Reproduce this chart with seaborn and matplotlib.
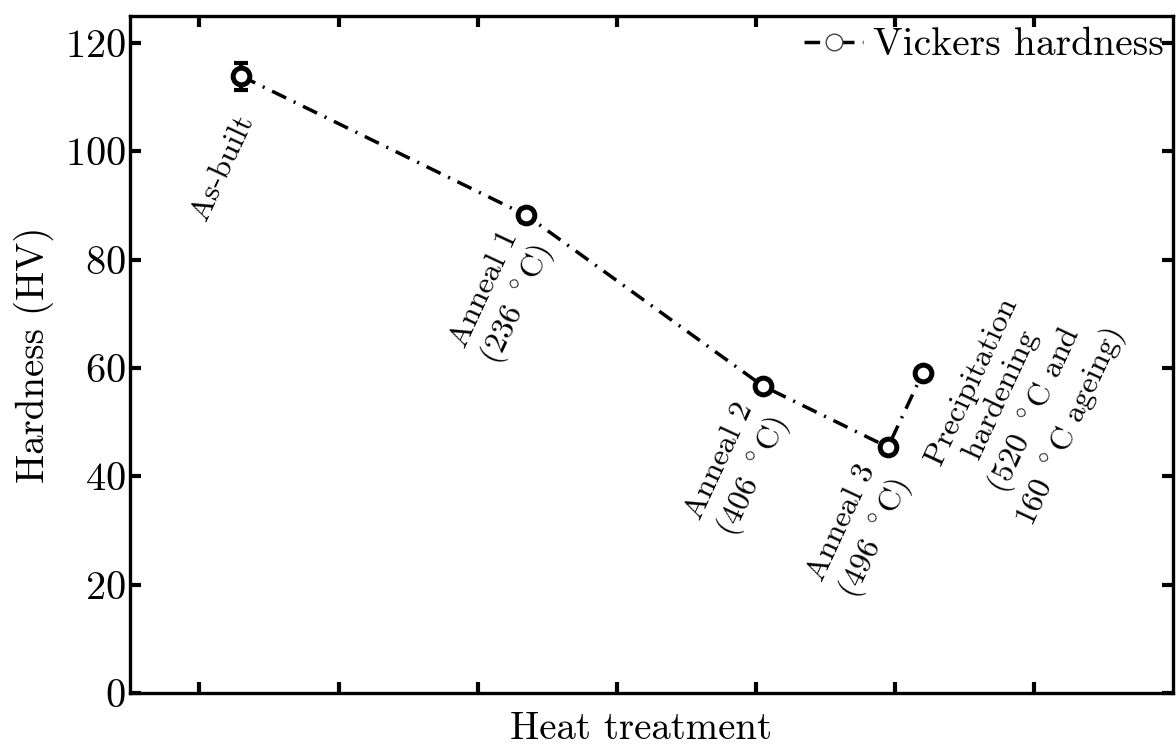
import matplotlib
matplotlib.use("Agg")
import matplotlib.pyplot as plt
import seaborn as sns
import pandas as pd
from matplotlib.lines import Line2D

# ---- data ----
treatments = ["As-built", "Anneal 1\n(236 $^\\circ$C)", "Anneal 2\n(406 $^\\circ$C)",
              "Anneal 3\n(496 $^\\circ$C)",
              "Precipitation\nhardening\n(520 $^\\circ$C and\n160 $^\\circ$C ageing)"]
x_pos = [1.30, 3.35, 5.05, 5.95, 6.20]
hardness = [113.9, 88.2, 56.7, 45.4, 59.1]
hardness_err = [2.5, 1.2, 0.6, 0.6, 0.6]
label_x = [1.17, 3.18, 4.87, 5.75, 6.92]
label_y = [97.0, 73.0, 41.2, 29.8, 53.2]
y_ticks = [0, 20, 40, 60, 80, 100, 120]
x_ticks = [1, 2, 3, 4, 5, 6, 7]

df = pd.DataFrame({"x": x_pos, "HV": hardness})

sns.set_style("ticks")
plt.rcParams["font.family"] = ["cmr10", "DejaVu Serif"]
plt.rcParams["mathtext.fontset"] = "cm"
plt.rcParams["axes.formatter.use_mathtext"] = True
for k in ["text.color", "axes.labelcolor", "xtick.color", "ytick.color",
          "axes.edgecolor"]:
    plt.rcParams[k] = "black"

fig = plt.figure(figsize=(11.76, 7.51), dpi=100)
ax = fig.add_axes([0.1105, 0.0772, 0.887, 0.9015])

sns.lineplot(data=df, x="x", y="HV", ax=ax, color="black", lw=2.5,
             marker="o", markersize=12, markerfacecolor="white",
             markeredgecolor="black", markeredgewidth=3.6, sort=False,
             zorder=3)
line = ax.lines[0]
line.set_dashes((4.5, 2.4, 0.6, 2.4))

ax.errorbar(x_pos, hardness, yerr=hardness_err, fmt="none", ecolor="black",
            elinewidth=3, capsize=5, capthick=3, zorder=2)

for t, lx, ly in zip(treatments, label_x, label_y):
    ax.text(lx, ly, t, rotation=65, ha="center", va="center",
            multialignment="center", fontsize=23, linespacing=1.2)

ax.set_xlim(0.5, 8.0)
ax.set_ylim(0, 125)
ax.set_xticks(x_ticks)
ax.set_xticklabels([])
ax.set_yticks(y_ticks)
ax.tick_params(direction="in", length=8, width=3, top=True, right=True,
               labelsize=29, pad=3)
for s in ax.spines.values():
    s.set_linewidth(2.4)
    s.set_color("black")

ax.set_xlabel("Heat treatment", fontsize=28)
ax.xaxis.set_label_coords(0.49, -0.027, transform=ax.transAxes)
ax.xaxis.label.set_va("top")
ax.set_ylabel("Hardness (HV)", fontsize=28, labelpad=8)

handle = Line2D([], [], color="black", lw=2.5, dashes=(4.5, 2.4, 0.6, 2.4),
                marker="o", markersize=12, markerfacecolor="white",
                markeredgecolor="#444444", markeredgewidth=1)
ax.legend([handle], ["Vickers hardness"], loc="center right",
          bbox_to_anchor=(0.9915, 0.9565), frameon=False,
          fontsize=28.5, handlelength=1.5, handletextpad=0.25,
          borderaxespad=0.0, borderpad=0.0)

fig.savefig("out.png", dpi=100)
